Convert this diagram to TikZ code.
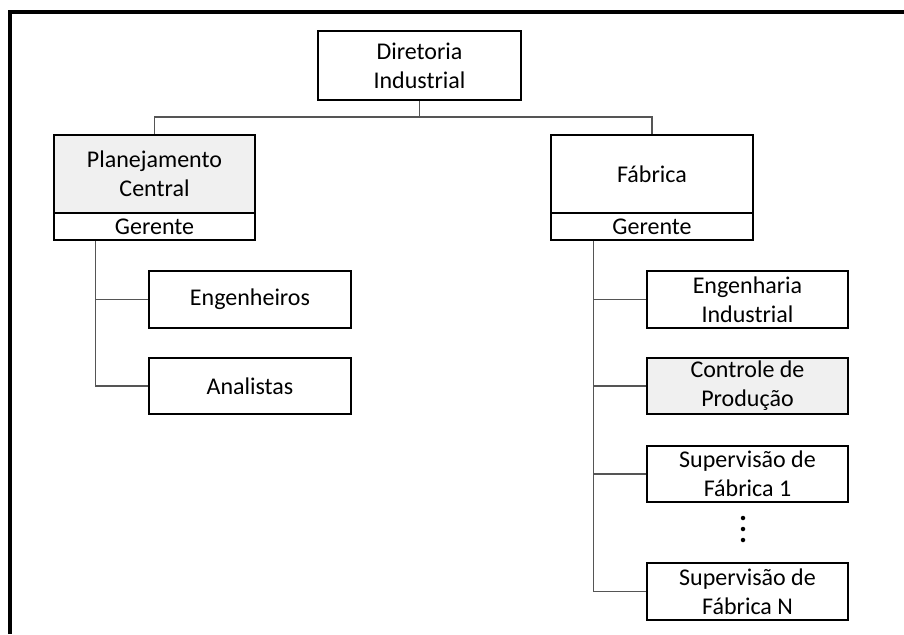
\documentclass[tikz,border=0pt]{standalone}
\usepackage{fontspec}
\setmainfont{Carlito}
\definecolor{fillg}{RGB}{240,240,240}
\definecolor{connc}{RGB}{85,85,85}
\newcommand{\boxfont}{\fontsize{24}{29}\selectfont}
\begin{document}
\begin{tikzpicture}[x=1pt,y=-1pt,
  box/.style={draw=black, line width=2.6pt, rectangle, inner sep=0pt, align=center, font=\boxfont, fill=white},
  greybox/.style={box, fill=fillg},
  conn/.style={draw=connc, line width=1.3pt},
  dotmark/.style={fill=black, circle, inner sep=0pt, minimum size=4.5pt}]
\useasboundingbox (0,0) rectangle (904,634);
\draw[line width=4pt] (10,634) -- (10,12) -- (904,12);

% top
\node[box, minimum width=203pt, minimum height=69pt] (dir) at (419.5,65.5) {Diretoria\\Industrial};

% Planejamento Central
\node[greybox, minimum width=201pt, minimum height=78pt] (plan) at (154.5,174) {Planejamento\\Central};
\node[box, minimum width=201pt, minimum height=27pt] (pg) at (154.5,226.5) {Gerente};

% Fabrica
\node[box, minimum width=202pt, minimum height=78pt] (fab) at (652,174) {Fábrica};
\node[box, minimum width=202pt, minimum height=27pt] (fg) at (652,226.5) {Gerente};

% left children
\node[box, minimum width=202pt, minimum height=57pt] (eng) at (250,299.5) {Engenheiros};
\node[box, minimum width=202pt, minimum height=56pt] (ana) at (250,386) {Analistas};

% right children
\node[box, minimum width=201pt, minimum height=57pt] (ei) at (747.5,299.5) {Engenharia\\Industrial};
\node[greybox, minimum width=201pt, minimum height=56pt] (cp) at (747.5,386) {Controle de\\Produção};
\node[box, minimum width=201pt, minimum height=56pt] (s1) at (747.5,474) {Supervisão de\\Fábrica 1};
\node[box, minimum width=201pt, minimum height=57pt] (sn) at (747.5,591.5) {Supervisão de\\Fábrica N};

% dots
\node[dotmark] (d1) at (743,518) {};
\node[dotmark] (d2) at (743,529) {};
\node[dotmark] (d3) at (743,540) {};

% connectors
\coordinate (j) at (419.5,117);
\draw[conn] (dir.south) -- (j);
\draw[conn] (j) -| (plan.north);
\draw[conn] (j) -| (fab.north);

\coordinate (lt) at ([xshift=42.5pt]pg.south west);
\draw[conn] (lt) |- (eng.west);
\draw[conn] (lt) |- (ana.west);

\coordinate (rt) at ([xshift=44pt]fg.south west);
\draw[conn] (rt) |- (ei.west);
\draw[conn] (rt) |- (cp.west);
\draw[conn] (rt) |- (s1.west);
\draw[conn] (rt) |- (sn.west);
\end{tikzpicture}
\end{document}
